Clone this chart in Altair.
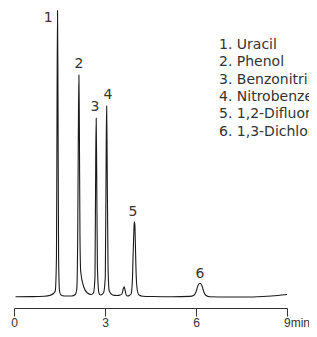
import altair as alt
import pandas as pd

# Chromatogram trace (time in min, detector signal in arbitrary units)
times = [0.05, 0.6, 1.0, 1.2, 1.3, 1.36,
         1.40, 1.42, 1.435, 1.45, 1.47, 1.50, 1.55, 1.65,
         1.90, 2.02, 2.07,
         2.10, 2.125, 2.14, 2.155, 2.175, 2.20, 2.30, 2.42, 2.55, 2.62,
         2.67, 2.695, 2.71, 2.725, 2.75, 2.80, 2.85,
         2.95, 3.01, 3.04, 3.055, 3.07, 3.10, 3.14, 3.25, 3.40, 3.50,
         3.56, 3.60, 3.63, 3.66, 3.70, 3.75, 3.80,
         3.86, 3.90, 3.93, 3.96, 3.97, 3.985, 4.00, 4.03, 4.07, 4.12, 4.25,
         4.60, 5.20, 5.80, 5.92,
         6.00, 6.06, 6.13, 6.20, 6.26, 6.33, 6.45,
         7.00, 7.60, 8.20, 8.70, 9.00]
signal = [0.3, 0.4, 0.8, 1.8, 3.5, 6,
          40, 200, 286.5, 200, 40, 6, 2, 1,
          1, 2.5, 8,
          60, 180, 222, 170, 60, 25, 10, 4, 2.5, 4,
          20, 140, 178.7, 130, 30, 4, 2,
          4, 20, 150, 191, 140, 30, 6, 2, 1.5, 2,
          3, 8, 10.3, 7, 2, 1, 1.5,
          3, 15, 45, 72, 75.3, 72, 55, 20, 6, 2, 0.8,
          0.5, 0.3, 0.6, 1.5,
          5, 11, 13.7, 11, 5, 1.5, 0.3,
          0, 0, 0.5, 1.5, 2.5]

# Peak numbers and where they sit
peak_labels = ["1", "2", "3", "4", "5", "6"]
peak_label_t = [1.13, 2.14, 2.67, 3.10, 3.92, 6.13]
peak_label_y = [279, 233, 190, 202, 85, 23]

compounds = ["Uracil", "Phenol", "Benzonitrile", "Nitrobenzene",
             "1,2-Difluorobenzene", "1,3-Dichlorobenzene"]

tick_values = [0, 3, 6, 9]

trace = pd.DataFrame({"t": times, "s": signal})
labels = pd.DataFrame({"t": peak_label_t, "s": peak_label_y, "lab": peak_labels})
legend_text = "\n".join(f"{i + 1}. {c}" for i, c in enumerate(compounds))
legend = pd.DataFrame({"txt": [legend_text]})

FONT = "DejaVu Sans"
TICK_FONT = "Liberation Sans"
INK = "#333333"

x_scale = alt.Scale(domain=[0, 9], nice=False, zero=False)
y_scale = alt.Scale(domain=[-11, 287], nice=False, zero=False)

line = alt.Chart(trace).mark_line(color="#1a1a1a", strokeWidth=1.1, interpolate="monotone").encode(
    x=alt.X("t:Q", scale=x_scale, title=None,
            axis=alt.Axis(values=tick_values, grid=False, domainColor=INK, tickColor=INK,
                          tickSize=8, tickWidth=1, domainWidth=1,
                          labelFont=TICK_FONT, labelFontSize=12, labelColor=INK, labelPadding=1,
                          labelExpr="datum.value == 9 ? '9min' : datum.label",
                          labelAlign={"condition": {"test": "datum.value == 9", "value": "left"}, "value": "center"},
                          labelOffset={"condition": {"test": "datum.value == 9", "value": -3.5}, "value": 0},
                          labelFlush=False, labelOverlap=False)),
    y=alt.Y("s:Q", scale=y_scale, axis=None),
)

peak_text = alt.Chart(labels).mark_text(font=FONT, fontSize=14, color=INK, align="center",
                                         baseline="middle").encode(
    x=alt.X("t:Q", scale=x_scale),
    y=alt.Y("s:Q", scale=y_scale),
    text="lab:N",
)

legend_mark = alt.Chart(legend).mark_text(font=FONT, fontSize=14, color=INK, align="left",
                                          baseline="alphabetic", lineBreak="\n", lineHeight=17.3).encode(
    x=alt.value(205),
    y=alt.value(39),
    text="txt:N",
)

chart = alt.layer(line, peak_text, legend_mark).properties(
    width=273, height=298,
    padding={"left": 6, "top": 2, "right": 22, "bottom": 21},
    autosize=alt.AutoSizeParams(type="none"),
).configure_view(stroke=None)

chart.save("out.html", embed_options={"renderer": "svg", "actions": False})
